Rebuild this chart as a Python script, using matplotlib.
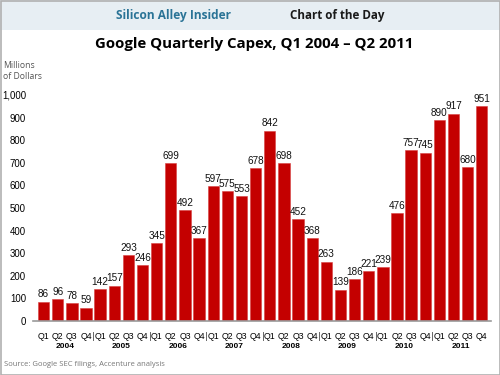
import matplotlib
matplotlib.use("Agg")
import matplotlib.pyplot as plt
from matplotlib.patches import Rectangle
import matplotlib.transforms as mtransforms

years = ["2004", "2005", "2006", "2007", "2008", "2009", "2010", "2011"]
quarters = ["Q1", "Q2", "Q3", "Q4"]
capex = [86, 96, 78, 59,
         142, 157, 293, 246,
         345, 699, 492, 367,
         597, 575, 553, 678,
         842, 698, 452, 368,
         263, 139, 186, 221,
         239, 476, 757, 745,
         890, 917, 680, 951]
yticks = [0, 100, 200, 300, 400, 500, 600, 700, 800, 900, 1000]

W, H = 500, 375
fig = plt.figure(figsize=(5, 3.75), dpi=100)
fig.patch.set_facecolor("white")

def fx(px):
    return px / W

def fy(py):
    return 1 - py / H

# header band
fig.patches.append(Rectangle((0, fy(30)), 1, 30 / H, transform=fig.transFigure,
                             facecolor="#e7eef3", edgecolor="none", zorder=0))
# outer frame
fig.patches.append(Rectangle((fx(0.5), fy(374.5)), fx(499), 374 / H, transform=fig.transFigure,
                             facecolor="none", edgecolor="#b0b0b0", lw=1.2, zorder=5))

fig.text(fx(231), fy(15), "Silicon Alley Insider", ha="right", va="center",
         fontsize=8.6, fontweight="bold", color="#2a7396", family="Open Sans")
fig.text(fx(290), fy(15), "Chart of the Day", ha="left", va="center",
         fontsize=8.4, fontweight="bold", color="#1a1a1a", family="Open Sans")

# little icon
iax = fig.add_axes([fx(241), fy(27), fx(42), 23 / H])
iax.set_xlim(0, 10)
iax.set_ylim(0, 10)
iax.axis("off")
iax.add_patch(Rectangle((0, 0), 10, 10, facecolor="#d5e2ea", edgecolor="none"))
for yy in range(1, 10, 2):
    iax.axhline(yy, color="#f2f6f8", lw=0.6)
iax.plot([0.8, 2.5, 4, 5.5, 7, 8.8], [1.5, 4.5, 2, 5, 3.5, 7.5], color="#2a7396", lw=1)
iax.annotate("", xy=(9.6, 9.2), xytext=(8.6, 7.2),
             arrowprops=dict(arrowstyle="-|>", color="#2a7396", lw=1, mutation_scale=6))

fig.text(fx(254), fy(44), "Google Quarterly Capex, Q1 2004 \u2013 Q2 2011", ha="center", va="center",
         fontsize=10.8, fontweight="bold", color="black", family="Open Sans")

fig.text(fx(3), fy(71), "Millions\nof Dollars", ha="left", va="center", fontsize=6.2,
         color="#555555", family="Open Sans", linespacing=1.3)
fig.text(fx(4), fy(365), "Source: Google SEC filings, Accenture analysis", ha="left", va="center",
         fontsize=5.5, color="#777777", family="Open Sans")

ax = fig.add_axes([fx(33), fy(321), fx(458), (321 - 95) / H])
x = list(range(len(capex)))
bars = ax.bar(x, capex, width=0.8, color="#c40000", edgecolor="#d84040", linewidth=0.4)
for xi, v in zip(x, capex):
    ax.text(xi, v + 10, str(v), ha="center", va="bottom", fontsize=7.2,
            family="Liberation Sans", color="#111111")

ax.set_ylim(0, 1000)
ax.set_xlim(-0.75, len(capex) - 0.35)
ax.set_yticks(yticks)
ax.set_yticklabels([f"{t:,}" for t in yticks], family="Liberation Sans", fontsize=6.9)
ax.tick_params(axis="y", length=0, pad=5)
for s in ["top", "right", "left"]:
    ax.spines[s].set_visible(False)
ax.spines["bottom"].set_color("#9a9a9a")
ax.spines["bottom"].set_linewidth(1.2)

ax.set_xticks(x)
ax.set_xticklabels([q for _ in years for q in quarters], family="Liberation Sans", fontsize=6.3)
ax.tick_params(axis="x", length=0, pad=8)

trans = mtransforms.blended_transform_factory(ax.transData, ax.transAxes)
for gi, yr in enumerate(years):
    ax.text(gi * 4 + 1.5, -0.115, yr, transform=trans, ha="center", va="center",
            fontsize=6, fontweight="bold", family="Liberation Sans")
    if gi > 0:
        ax.plot([gi * 4 - 0.5, gi * 4 - 0.5], [-0.048, -0.085], transform=trans,
                color="#666666", lw=0.7, clip_on=False)

fig.savefig("out.png", dpi=100)
